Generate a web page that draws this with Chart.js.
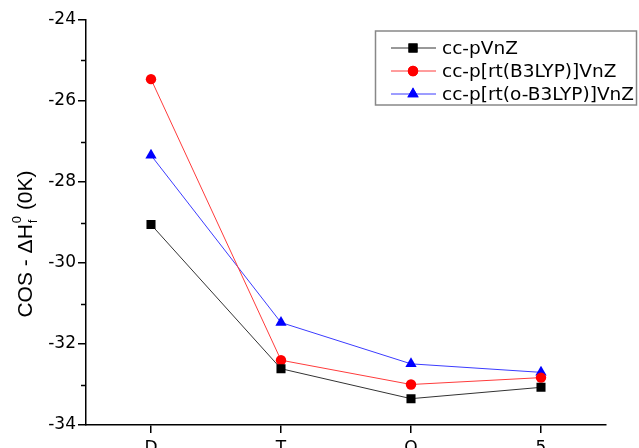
<!DOCTYPE html>
<html>
<head>
<meta charset="utf-8">
<script src="https://cdn.jsdelivr.net/npm/chart.js@4"></script>
<style>
  body { margin: 0; background: #fff; }
  canvas { display: block; }
</style>
</head>
<body>
<canvas id="chart" width="639" height="448"></canvas>
<script>
// values
let labels = ["D", "T", "Q", "5"];
let ccpVnZ = [-29.05, -32.61, -33.35, -33.07];
let rtB3LYP = [-25.46, -32.40, -33.0, -32.83];
let rtoB3LYP = [-27.34, -31.47, -32.49, -32.70];
let yTicks = [-34, -32, -30, -28, -26, -24];
let seriesNames = ["cc-pVnZ", "cc-p[rt(B3LYP)]VnZ", "cc-p[rt(o-B3LYP)]VnZ"];

let tickFont = { family: "DejaVu Sans", size: 17 };

//---------------------------------------------
// y title with sub/superscript
//---------------------------------------------
let yTitle = {
  id: "yTitle",
  afterDraw(chart) {
    let ctx = chart.ctx;
    ctx.save();
    ctx.translate(32, 244);
    ctx.rotate(-Math.PI / 2);
    ctx.fillStyle = "#000";
    ctx.textBaseline = "alphabetic";
    let big = "21px 'Liberation Sans', Arial";
    let small = "13px 'Liberation Sans', Arial";
    ctx.font = big;
    let a = "COS - \u0394H";
    let b = " (0K)";
    let wa = ctx.measureText(a).width;
    let wb = ctx.measureText(b).width;
    ctx.font = small;
    let ws = Math.max(ctx.measureText("f").width, ctx.measureText("0").width) + 1;
    let x = -(wa + ws + wb) / 2;
    ctx.font = big;
    ctx.fillText(a, x, 0);
    ctx.font = small;
    ctx.fillText("f", x + wa + 1, 5);
    ctx.fillText("0", x + wa + 1, -11);
    ctx.font = big;
    ctx.fillText(b, x + wa + ws, 0);
    ctx.restore();
  },
};

//---------------------------------------------
// minor ticks on y (odd values)
//---------------------------------------------
let minorTicks = {
  id: "minorTicks",
  afterDraw(chart) {
    let ctx = chart.ctx;
    let y = chart.scales.y;
    ctx.save();
    ctx.strokeStyle = "#000";
    ctx.lineWidth = 1.5;
    for (let v = -33; v <= -25; v += 2) {
      let py = Math.round(y.getPixelForValue(v)) + 0.5;
      ctx.beginPath();
      ctx.moveTo(y.right - 5, py);
      ctx.lineTo(y.right, py);
      ctx.stroke();
    }
    ctx.restore();
  },
};

//---------------------------------------------
// boxed legend, inside top right
//---------------------------------------------
let boxLegend = {
  id: "boxLegend",
  afterDraw(chart) {
    let ctx = chart.ctx;
    ctx.save();
    ctx.strokeStyle = "#888";
    ctx.lineWidth = 1.5;
    ctx.strokeRect(375.5, 31, 261, 74);
    ctx.font = "18.5px 'DejaVu Sans'";
    ctx.textBaseline = "middle";
    chart.data.datasets.forEach((ds, i) => {
      let ry = Math.round(47.5 + i * 23.3);
      ctx.strokeStyle = ds.borderColor;
      ctx.lineWidth = 1;
      ctx.beginPath();
      ctx.moveTo(391, ry);
      ctx.lineTo(436, ry);
      ctx.stroke();
      ctx.fillStyle = ds.pointBackgroundColor;
      Chart.helpers.drawPoint(ctx, {
        pointStyle: ds.pointStyle,
        radius: ds.pointRadius,
        rotation: 0,
        borderWidth: 0,
      }, 413, ry);
      ctx.fill();
      ctx.fillStyle = "#000";
      ctx.fillText(ds.label, 442, ry + 1);
    });
    ctx.restore();
  },
};

new Chart(document.getElementById("chart"), {
  type: "line",
  data: {
    labels: labels,
    datasets: [
      {
        label: seriesNames[0],
        data: ccpVnZ,
        borderColor: "#333",
        borderWidth: 1,
        pointStyle: "rect",
        pointRadius: 6.4,
        pointBackgroundColor: "#000",
        pointBorderWidth: 0,
        tension: 0,
      },
      {
        label: seriesNames[1],
        data: rtB3LYP,
        borderColor: "#ff3b3b",
        borderWidth: 1,
        pointStyle: "circle",
        pointRadius: 5.2,
        pointBackgroundColor: "#f00",
        pointBorderWidth: 0,
        tension: 0,
      },
      {
        label: seriesNames[2],
        data: rtoB3LYP,
        borderColor: "#3b3bff",
        borderWidth: 1,
        pointStyle: "triangle",
        pointRadius: 6.5,
        pointBackgroundColor: "#00f",
        pointBorderWidth: 0,
        tension: 0,
      },
    ],
  },
  options: {
    responsive: false,
    animation: false,
    devicePixelRatio: 1,
    layout: { padding: { top: 20, right: 33, left: 0, bottom: 0 } },
    plugins: {
      legend: { display: false },
      tooltip: { enabled: false },
    },
    scales: {
      x: {
        offset: true,
        afterFit: (s) => { s.height = 23; },
        border: { color: "#000", width: 1.5 },
        grid: { drawOnChartArea: false, drawTicks: true, tickLength: 8, color: "#000", lineWidth: 1.5, offset: false },
        ticks: { color: "#000", font: tickFont, padding: 5, maxRotation: 0, autoSkip: false },
      },
      y: {
        min: -34,
        max: -24,
        afterFit: (s) => { s.width = 86; },
        afterBuildTicks: (s) => { s.ticks = yTicks.map((v) => ({ value: v })); },
        border: { color: "#000", width: 1.5 },
        grid: { drawOnChartArea: false, drawTicks: true, tickLength: 8, color: "#000", lineWidth: 1.5 },
        ticks: { color: "#000", font: tickFont, padding: 2 },
      },
    },
  },
  plugins: [yTitle, minorTicks, boxLegend],
});
</script>
</body>
</html>
